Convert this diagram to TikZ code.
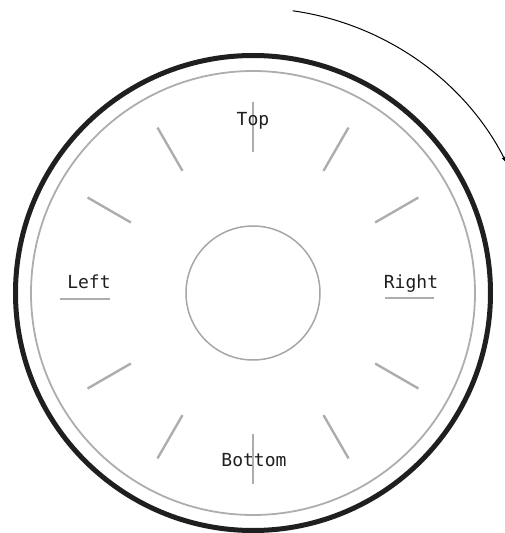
\documentclass[tikz,border=0pt]{standalone}
\usepackage{fontspec}
\setmonofont{DejaVu Sans Mono}
\usetikzlibrary{arrows.meta}

\begin{document}
\begin{tikzpicture}[
  x=1pt,y=1pt,
  font=\ttfamily\fontsize{18}{20}\selectfont,
  rim/.style={draw=black!88,line width=5pt},
  ring/.style={draw=black!32,line width=1.8pt},
  hub/.style={draw=black!35,line width=1.5pt},
  tick/.style={draw=black!32,line width=2.4pt},
  side/.style={text=black!88,inner sep=0pt,anchor=base},
  turn/.style={-{Latex[length=7pt,width=4.5pt]},line width=1pt}
]
\useasboundingbox (-253,-240) rectangle (252,293);
\coordinate (c) at (0,0);
\draw[rim] (c) circle[radius=237.5];
\draw[ring] (c) circle[radius=222];
\draw[hub] (c) circle[radius=67];

\foreach \a in {30,60,90,120,150,210,240,270,300,330}
  \draw[tick] (c) ++(\a:141) -- ++(\a:50);
\draw[tick] (-193,-6) -- (-143,-6);
\draw[tick] (132,-5) -- (181,-5);

\node[side] (top) at (0,167) {Top};
\node[side] (left) at (-164,5) {Left};
\node[side] (right) at (158,5) {Right};
\node[side] (bottom) at (1,-173) {Bottom};

\draw[turn] (c) ++(82:285) arc[start angle=82,end angle=27,radius=285];
\end{tikzpicture}
\end{document}
